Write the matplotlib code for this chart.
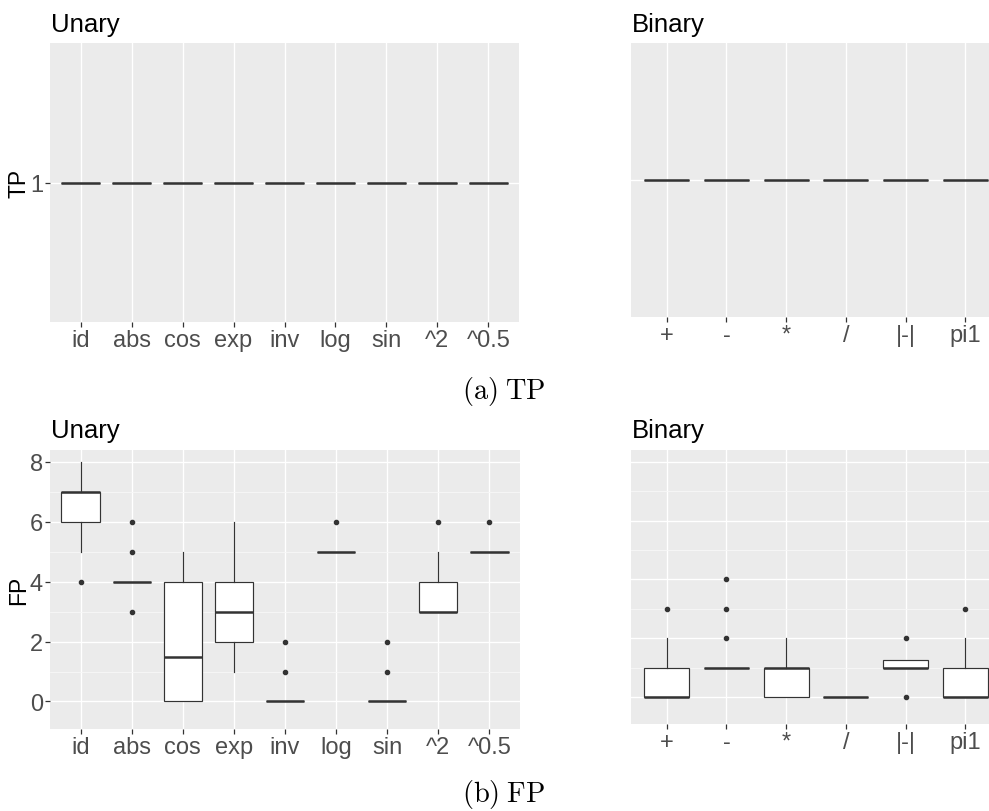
import matplotlib
matplotlib.use("Agg")
import matplotlib.pyplot as plt
from matplotlib.ticker import FixedLocator

plt.rcParams['font.family'] = ['Liberation Sans', 'DejaVu Sans']
plt.rcParams['mathtext.fontset'] = 'cm'

unary_ops = ["id", "abs", "cos", "exp", "inv", "log", "sin", "^2", "^0.5"]
binary_ops = ["+", "-", "*", "/", "|-|", "pi1"]

# TP: every operator found exactly once
unary_tp = [1, 1, 1, 1, 1, 1, 1, 1, 1]
binary_tp = [1, 1, 1, 1, 1, 1]

# FP box statistics
unary_fp_q1 = [6, 4, 0, 2, 0, 5, 0, 3, 5]
unary_fp_med = [7, 4, 1.5, 3, 0, 5, 0, 3, 5]
unary_fp_q3 = [7, 4, 4, 4, 0, 5, 0, 4, 5]
unary_fp_wlo = [5, 4, 0, 1, 0, 5, 0, 3, 5]
unary_fp_whi = [8, 4, 5, 6, 0, 5, 0, 5, 5]
unary_fp_out = [[4], [6, 5, 3], [], [], [2, 1], [6], [2, 1], [6], [6]]

binary_fp_q1 = [0, 1, 0, 0, 1, 0]
binary_fp_med = [0, 1, 1, 0, 1, 0]
binary_fp_q3 = [1, 1, 1, 0, 1.25, 1]
binary_fp_wlo = [0, 1, 0, 0, 1, 0]
binary_fp_whi = [2, 1, 2, 0, 1.25, 2]
binary_fp_out = [[3], [2, 3, 4], [], [], [2, 0], [3]]

W, H = 989, 812
fig = plt.figure(figsize=(W / 100, H / 100), dpi=100)
fig.patch.set_facecolor('white')


def add_ax(x0, x1, y0, y1):
    return fig.add_axes([x0 / W, 1 - y1 / H, (x1 - x0) / W, (y1 - y0) / H])


LINE = '#333333'
TICKC = '#4D4D4D'


def stats_from(q1, med, q3, wlo, whi, out):
    return [dict(q1=a, med=b, q3=c, whislo=d, whishi=e, fliers=f)
            for a, b, c, d, e, f in zip(q1, med, q3, wlo, whi, out)]


def draw(ax, stats, labels, ylim, yticks, yminor, show_y):
    n = len(labels)
    ax.set_facecolor('#EBEBEB')
    for s in ax.spines.values():
        s.set_visible(False)
    ax.bxp(stats, positions=range(1, n + 1), widths=0.75, showcaps=False,
           patch_artist=True,
           boxprops=dict(facecolor='white', edgecolor=LINE, linewidth=0.85),
           whiskerprops=dict(color=LINE, linewidth=0.85),
           medianprops=dict(color=LINE, linewidth=1.8, solid_capstyle='butt'),
           flierprops=dict(marker='o', markersize=3.0, markerfacecolor=LINE,
                           markeredgecolor=LINE, linestyle='none'),
           zorder=3)
    ax.set_xlim(0.4, n + 0.6)
    ax.set_ylim(*ylim)
    ax.set_xticks(range(1, n + 1))
    ax.set_xticklabels(labels, fontsize=17, color=TICKC)
    ax.set_yticks(yticks)
    ax.set_yticklabels([str(t) for t in yticks], fontsize=17, color=TICKC)
    ax.yaxis.set_minor_locator(FixedLocator(yminor))
    ax.grid(True, which='major', color='white', linewidth=0.95, zorder=0)
    ax.grid(True, which='minor', axis='y', color='#F7F7F7', linewidth=0.6, zorder=0)
    ax.set_axisbelow(True)
    ax.tick_params(axis='both', which='major', length=3.5, width=0.9,
                   color=LINE, pad=1.5)
    ax.tick_params(axis='y', which='minor', length=0)
    if not show_y:
        ax.tick_params(axis='y', which='both', left=False, labelleft=False)


tp_u = [dict(q1=v, med=v, q3=v, whislo=v, whishi=v, fliers=[]) for v in unary_tp]
tp_b = [dict(q1=v, med=v, q3=v, whislo=v, whishi=v, fliers=[]) for v in binary_tp]

ax1 = add_ax(50, 519, 44, 323)
draw(ax1, tp_u, unary_ops, (0.95, 1.05), [1], [], True)
ax2 = add_ax(631, 1001, 44, 318)
draw(ax2, tp_b, binary_ops, (0.95, 1.05), [1], [], False)

ax3 = add_ax(50, 520, 451, 730)
draw(ax3, stats_from(unary_fp_q1, unary_fp_med, unary_fp_q3, unary_fp_wlo,
                     unary_fp_whi, unary_fp_out),
     unary_ops, (-0.92, 8.4), [0, 2, 4, 6, 8], [1, 3, 5, 7], True)
ax4 = add_ax(631, 1001, 451, 725)
draw(ax4, stats_from(binary_fp_q1, binary_fp_med, binary_fp_q3, binary_fp_wlo,
                     binary_fp_whi, binary_fp_out),
     binary_ops, (-0.92, 8.4), [0, 2, 4, 6, 8], [1, 3, 5, 7], False)

# Titles
fig.text(51 / W, 1 - 32 / H, "Unary", fontsize=18.5, color='black', va='baseline')
fig.text(632 / W, 1 - 32 / H, "Binary", fontsize=18.5, color='black', va='baseline')
fig.text(51 / W, 1 - 438 / H, "Unary", fontsize=18.5, color='black', va='baseline')
fig.text(632 / W, 1 - 438 / H, "Binary", fontsize=18.5, color='black', va='baseline')

# Axis titles
fig.text(19 / W, 1 - 183 / H, "TP", fontsize=16.5, rotation=90, va='center', ha='center')
fig.text(19 / W, 1 - 590 / H, "FP", fontsize=16.5, rotation=90, va='center', ha='center')

# Captions
fig.text(504 / W, 1 - 392 / H, r"$\mathrm{(a)\;TP}$", fontsize=20.5, ha='center', va='center')
fig.text(504 / W, 1 - 795 / H, r"$\mathrm{(b)\;FP}$", fontsize=20.5, ha='center', va='center')

fig.savefig("out.png", dpi=100)
